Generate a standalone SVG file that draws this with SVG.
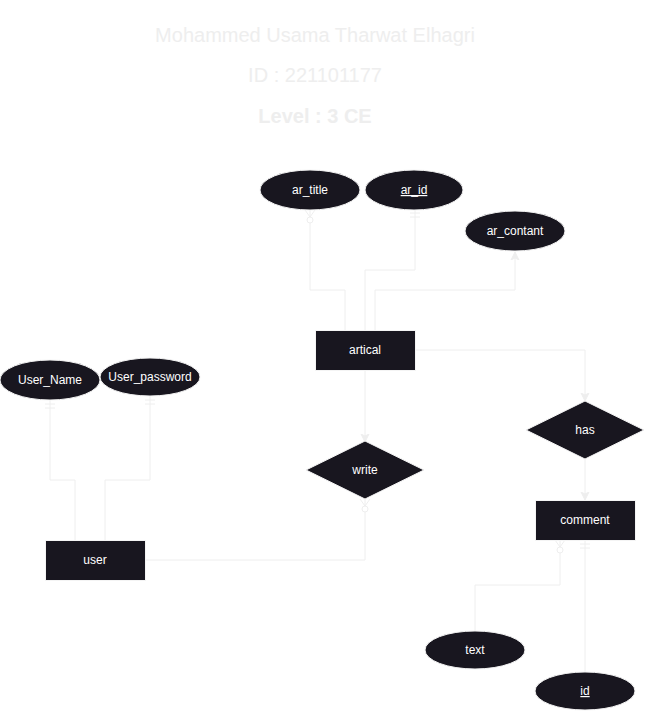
<svg xmlns="http://www.w3.org/2000/svg" width="646" height="711" viewBox="0 0 646 711">
<style>
.t{font-family:"Liberation Sans",Arial,sans-serif;}
.title{fill:#eeeeee;font-size:20px;text-anchor:middle;}
.n{fill:#18161f;stroke:#f4f4f4;stroke-width:1;}
.lbl{fill:#ffffff;font-size:12px;text-anchor:middle;}
.c{fill:none;stroke:#eeeeee;stroke-width:1;}
</style>
<defs>
<marker id="zm" markerUnits="userSpaceOnUse" markerWidth="20" markerHeight="20" refX="0" refY="10" viewBox="0 0 20 20" orient="auto">
<path d="M0,5 L7,10 L0,15" fill="none" stroke="#eeeeee" stroke-width="1"/>
<circle cx="10" cy="10" r="3" fill="#ffffff" stroke="#eeeeee" stroke-width="1"/>
</marker>
<marker id="om" markerUnits="userSpaceOnUse" markerWidth="20" markerHeight="20" refX="0" refY="10" viewBox="0 0 20 20" orient="auto">
<path d="M4,5 V15 M8,5 V15" fill="none" stroke="#eeeeee" stroke-width="1"/>
</marker>
<marker id="ar" markerUnits="userSpaceOnUse" markerWidth="12" markerHeight="12" refX="8" refY="6" viewBox="0 0 12 12" orient="auto">
<path d="M0,2 L8,6 L0,10 L2,6 z" fill="#eeeeee" stroke="#eeeeee" stroke-width="1"/>
</marker>
</defs>
<g id="header" class="t">
<text class="title" x="315" y="42">Mohammed Usama Tharwat Elhagri</text>
<text class="title" x="315" y="82">ID : 221101177</text>
<text class="title" x="315" y="123" font-weight="bold">Level : 3 CE</text>
</g>
<g id="connectors">
<path class="c" d="M310,210 V290 H345 V331" marker-start="url(#zm)"/>
<path class="c" d="M415,209 V270 H365 V331" marker-start="url(#om)"/>
<path class="c" d="M375,331 V290 H515 V252" marker-end="url(#ar)"/>
<path class="c" d="M415,350 H585 V401" marker-end="url(#ar)"/>
<path class="c" d="M365,370 V442" marker-end="url(#ar)"/>
<path class="c" d="M365,499 V560 H145" marker-start="url(#zm)"/>
<path class="c" d="M50,400 V480 H75 V541" marker-start="url(#om)"/>
<path class="c" d="M150,396 V480 H105 V541" marker-start="url(#om)"/>
<path class="c" d="M585,459 V500" marker-end="url(#ar)"/>
<path class="c" d="M560,540 V585 H475 V631" marker-start="url(#zm)"/>
<path class="c" d="M585,540 V672" marker-start="url(#om)"/>
</g>
<g id="ar_title" class="t"><ellipse class="n" cx="310" cy="190" rx="50" ry="20"/><text class="lbl" x="310" y="194">ar_title</text></g>
<g id="ar_id" class="t"><ellipse class="n" cx="414" cy="190" rx="49" ry="20"/><text class="lbl" x="414" y="194" text-decoration="underline">ar_id</text></g>
<g id="ar_contant" class="t"><ellipse class="n" cx="515" cy="231" rx="50" ry="20"/><text class="lbl" x="515" y="235">ar_contant</text></g>
<g id="artical" class="t"><rect class="n" x="315.5" y="330.5" width="100" height="40"/><text class="lbl" x="365" y="354">artical</text></g>
<g id="User_Name" class="t"><ellipse class="n" cx="50" cy="380" rx="50" ry="20"/><text class="lbl" x="50" y="384">User_Name</text></g>
<g id="User_password" class="t"><ellipse class="n" cx="150" cy="377" rx="50" ry="19"/><text class="lbl" x="150" y="381">User_password</text></g>
<g id="write" class="t"><path class="n" d="M306,470 L365,441 L424,470 L365,499 Z"/><text class="lbl" x="365" y="474">write</text></g>
<g id="has" class="t"><path class="n" d="M526,430 L585,401 L644,430 L585,459 Z"/><text class="lbl" x="585" y="434">has</text></g>
<g id="comment" class="t"><rect class="n" x="535.5" y="500.5" width="100" height="40"/><text class="lbl" x="585" y="524">comment</text></g>
<g id="user" class="t"><rect class="n" x="45.5" y="540.5" width="100" height="40"/><text class="lbl" x="95" y="564">user</text></g>
<g id="text" class="t"><ellipse class="n" cx="475" cy="650" rx="50" ry="19"/><text class="lbl" x="475" y="654">text</text></g>
<g id="id" class="t"><ellipse class="n" cx="585" cy="691" rx="50" ry="19"/><text class="lbl" x="585" y="695" text-decoration="underline">id</text></g>
</svg>
